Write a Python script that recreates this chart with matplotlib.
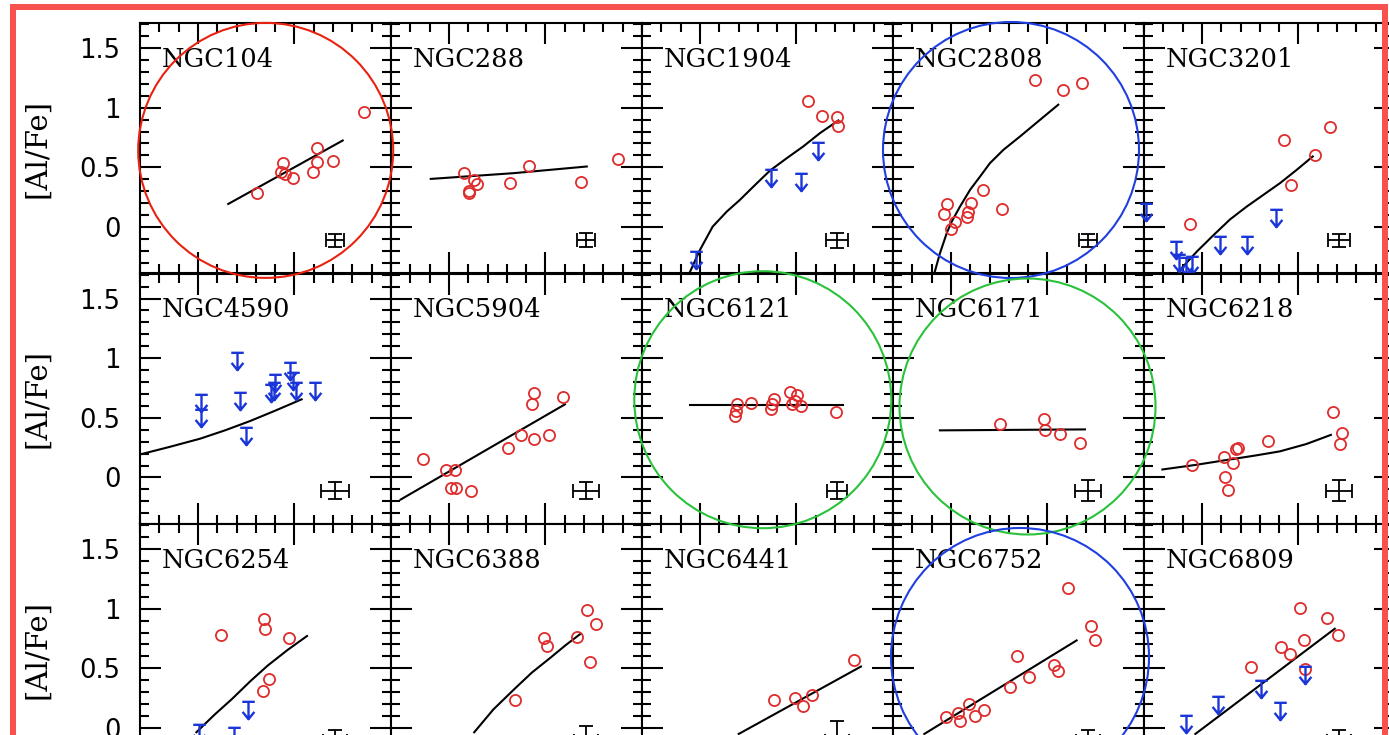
import matplotlib
matplotlib.use('Agg')
import matplotlib.pyplot as plt
from matplotlib.path import Path
from matplotlib.patches import Ellipse, Rectangle
from matplotlib.ticker import MultipleLocator

# ---------------- data ----------------
names = ["NGC104", "NGC288", "NGC1904", "NGC2808", "NGC3201",
         "NGC4590", "NGC5904", "NGC6121", "NGC6171", "NGC6218",
         "NGC6254", "NGC6388", "NGC6441", "NGC6752", "NGC6809"]

ngc104_x = [0.307, 0.439, 0.430, 0.451, 0.494, 0.598, 0.615, 0.618, 0.701, 0.862]
ngc104_y = [0.288, 0.535, 0.465, 0.445, 0.414, 0.465, 0.666, 0.544, 0.549, 0.961]
ngc104_lx = [0.157, 0.750]
ngc104_ly = [0.193, 0.725]
ngc104_err = [0.045, 0.055]

ngc288_x = [0.078, 0.131, 0.144, 0.104, 0.106, 0.316, 0.415, 0.684, 0.876]
ngc288_y = [0.451, 0.395, 0.361, 0.303, 0.288, 0.367, 0.513, 0.381, 0.571]
ngc288_lx = [-0.094, 0.334, 0.714]
ngc288_ly = [0.403, 0.451, 0.507]
ngc288_err = [0.047, 0.060]

ngc1904_x = [0.558, 0.634, 0.712, 0.717]
ngc1904_y = [1.053, 0.933, 0.922, 0.849]
ngc1904_ulx = [0.368, 0.522, 0.609, -0.022]
ngc1904_uly = [0.409, 0.381, 0.633, -0.277]
ngc1904_lx = [-0.055, 0.0, 0.066, 0.139, 0.207, 0.286, 0.363, 0.450, 0.535, 0.622, 0.717]
ngc1904_ly = [-0.389, -0.193, 0.003, 0.129, 0.227, 0.353, 0.473, 0.577, 0.675, 0.787, 0.893]
ngc1904_err = [0.057, 0.063]

ngc2808_x = [0.435, 0.580, 0.680, 0.168, -0.019, -0.036, 0.021, -0.001, 0.103, 0.091, 0.082, 0.265]
ngc2808_y = [1.235, 1.151, 1.207, 0.311, 0.191, 0.107, 0.045, -0.014, 0.199, 0.129, 0.087, 0.149]
ngc2808_lx = [-0.086, -0.057, -0.022, 0.004, 0.047, 0.099, 0.151, 0.202, 0.272, 0.358, 0.462, 0.556]
ngc2808_ly = [-0.389, -0.221, -0.053, 0.045, 0.171, 0.311, 0.423, 0.535, 0.647, 0.759, 0.899, 1.025]
ngc2808_err = [0.047, 0.055]

ngc3201_x = [-0.062, 0.427, 0.463, 0.586, 0.664]
ngc3201_y = [0.022, 0.728, 0.353, 0.602, 0.838]
ngc3201_ulx = [0.382, 0.235, 0.094, -0.136, -0.120, -0.050, -0.085, -0.290]
ngc3201_uly = [0.073, -0.151, -0.151, -0.193, -0.305, -0.315, -0.330, 0.129]
ngc3201_lx = [-0.122, -0.027, 0.059, 0.146, 0.232, 0.318, 0.404, 0.491, 0.574]
ngc3201_ly = [-0.375, -0.207, -0.070, 0.064, 0.171, 0.269, 0.367, 0.479, 0.591]
ngc3201_err = [0.056, 0.055]

ngc4590_ulx = [0.016, 0.016, 0.201, 0.218, 0.249, 0.377, 0.399, 0.394, 0.477, 0.494, 0.508, 0.606]
ngc4590_uly = [0.628, 0.502, 0.977, 0.641, 0.347, 0.712, 0.796, 0.725, 0.893, 0.809, 0.725, 0.725]
ngc4590_lx = [-0.300, -0.150, 0.011, 0.140, 0.270, 0.400, 0.537]
ngc4590_ly = [0.193, 0.255, 0.325, 0.395, 0.473, 0.560, 0.655]
ngc4590_err = [0.073, 0.070]

ngc5904_x = [-0.133, -0.017, 0.031, 0.009, 0.037, 0.113, 0.308, 0.372, 0.441, 0.518, 0.429, 0.441, 0.593]
ngc5904_y = [0.151, 0.061, 0.061, -0.087, -0.087, -0.115, 0.244, 0.356, 0.319, 0.356, 0.613, 0.706, 0.678]
ngc5904_lx = [-0.250, 0.601]
ngc5904_ly = [-0.185, 0.613]
ngc5904_err = [0.065, 0.070]

ngc6121_x = [0.182, 0.187, 0.193, 0.265, 0.368, 0.372, 0.384, 0.467, 0.501, 0.475, 0.492, 0.522, 0.705]
ngc6121_y = [0.515, 0.557, 0.613, 0.627, 0.571, 0.613, 0.655, 0.717, 0.692, 0.613, 0.641, 0.599, 0.552]
ngc6121_lx = [-0.051, 0.743]
ngc6121_ly = [0.605, 0.605]
ngc6121_err = [0.052, 0.070]

ngc6171_x = [0.254, 0.482, 0.487, 0.565, 0.668]
ngc6171_y = [0.445, 0.487, 0.398, 0.361, 0.292]
ngc6171_lx = [-0.057, 0.694]
ngc6171_ly = [0.395, 0.403]
ngc6171_err = [0.065, 0.090]

ngc6218_x = [-0.051, 0.114, 0.159, 0.121, 0.134, 0.177, 0.189, 0.341, 0.678, 0.724, 0.715]
ngc6218_y = [0.101, 0.171, 0.123, 0.006, -0.106, 0.235, 0.244, 0.305, 0.549, 0.370, 0.277]
ngc6218_lx = [-0.205, -0.030, 0.145, 0.280, 0.404, 0.540, 0.668]
ngc6218_ly = [0.067, 0.106, 0.151, 0.185, 0.219, 0.280, 0.357]
ngc6218_err = [0.065, 0.090]

ngc6254_x = [0.120, 0.344, 0.346, 0.473, 0.369, 0.335]
ngc6254_y = [0.781, 0.916, 0.826, 0.756, 0.412, 0.313]
ngc6254_ulx = [0.258, 0.008, 0.189]
ngc6254_uly = [0.150, -0.045, -0.070]
ngc6254_lx = [-0.008, 0.085, 0.177, 0.270, 0.362, 0.465, 0.565]
ngc6254_ly = [-0.036, 0.110, 0.244, 0.390, 0.524, 0.655, 0.771]
ngc6254_err = [0.060, 0.090]

ngc6388_x = [0.341, 0.490, 0.507, 0.662, 0.715, 0.762, 0.732]
ngc6388_y = [0.238, 0.756, 0.686, 0.762, 0.992, 0.874, 0.557]
ngc6388_lx = [0.131, 0.230, 0.340, 0.430, 0.525, 0.605, 0.682]
ngc6388_ly = [-0.036, 0.155, 0.328, 0.465, 0.588, 0.695, 0.790]
ngc6388_err = [0.060, 0.130]

ngc6441_x = [0.384, 0.494, 0.534, 0.583, 0.799]
ngc6441_y = [0.235, 0.252, 0.188, 0.280, 0.571]
ngc6441_lx = [0.201, 0.834]
ngc6441_ly = [-0.050, 0.515]
ngc6441_err = [0.060, 0.170]

ngc6752_x = [-0.026, 0.037, 0.049, 0.096, 0.124, 0.173, 0.307, 0.340, 0.406, 0.532, 0.556, 0.607, 0.725, 0.748]
ngc6752_y = [0.095, 0.126, 0.056, 0.202, 0.098, 0.154, 0.342, 0.603, 0.426, 0.524, 0.476, 1.176, 0.851, 0.739]
ngc6752_lx = [-0.138, 0.651]
ngc6752_ly = [-0.050, 0.734]
ngc6752_err = [0.060, 0.090]

ngc6809_x = [0.253, 0.412, 0.454, 0.510, 0.529, 0.646, 0.705, 0.533]
ngc6809_y = [0.515, 0.683, 0.622, 1.006, 0.739, 0.922, 0.781, 0.496]
ngc6809_ulx = [0.536, 0.307, 0.405, 0.085, -0.084]
ngc6809_uly = [0.440, 0.328, 0.145, 0.196, 0.034]
ngc6809_lx = [-0.034, 0.688]
ngc6809_ly = [-0.050, 0.832]
ngc6809_err = [0.060, 0.090]

ytick_vals = [0, 0.5, 1, 1.5]
ytick_labels = ["0", "0.5", "1", "1.5"]
ylabel_text = "[Al/Fe]"

panels = [
    (ngc104_x, ngc104_y, [], [], ngc104_lx, ngc104_ly, ngc104_err),
    (ngc288_x, ngc288_y, [], [], ngc288_lx, ngc288_ly, ngc288_err),
    (ngc1904_x, ngc1904_y, ngc1904_ulx, ngc1904_uly, ngc1904_lx, ngc1904_ly, ngc1904_err),
    (ngc2808_x, ngc2808_y, [], [], ngc2808_lx, ngc2808_ly, ngc2808_err),
    (ngc3201_x, ngc3201_y, ngc3201_ulx, ngc3201_uly, ngc3201_lx, ngc3201_ly, ngc3201_err),
    ([], [], ngc4590_ulx, ngc4590_uly, ngc4590_lx, ngc4590_ly, ngc4590_err),
    (ngc5904_x, ngc5904_y, [], [], ngc5904_lx, ngc5904_ly, ngc5904_err),
    (ngc6121_x, ngc6121_y, [], [], ngc6121_lx, ngc6121_ly, ngc6121_err),
    (ngc6171_x, ngc6171_y, [], [], ngc6171_lx, ngc6171_ly, ngc6171_err),
    (ngc6218_x, ngc6218_y, [], [], ngc6218_lx, ngc6218_ly, ngc6218_err),
    (ngc6254_x, ngc6254_y, ngc6254_ulx, ngc6254_uly, ngc6254_lx, ngc6254_ly, ngc6254_err),
    (ngc6388_x, ngc6388_y, [], [], ngc6388_lx, ngc6388_ly, ngc6388_err),
    (ngc6441_x, ngc6441_y, [], [], ngc6441_lx, ngc6441_ly, ngc6441_err),
    (ngc6752_x, ngc6752_y, [], [], ngc6752_lx, ngc6752_ly, ngc6752_err),
    (ngc6809_x, ngc6809_y, ngc6809_ulx, ngc6809_uly, ngc6809_lx, ngc6809_ly, ngc6809_err),
]

# ---------------- style ----------------
W, H = 1389, 735
RED = '#de2c2c'
BLUE = '#1b36d8'
SERIF = ['DejaVu Serif']
SANS = ['DejaVu Sans']

arrow_marker = Path(
    [(-0.36, 0.5), (0.36, 0.5), (0.0, 0.5), (0.0, -0.5),
     (-0.34, -0.08), (0.0, -0.5), (0.34, -0.08)],
    [Path.MOVETO, Path.LINETO, Path.MOVETO, Path.LINETO,
     Path.MOVETO, Path.LINETO, Path.LINETO])

fig = plt.figure(figsize=(W / 100, H / 100), dpi=100)
fig.patch.set_facecolor('white')

ax_w, ax_h = 251.0, 250.5
left0, top0 = 140.0, 23.0

for i, (name, p) in enumerate(zip(names, panels)):
    r, c = divmod(i, 5)
    lpx = left0 + c * ax_w
    tpx = top0 + r * ax_h
    ax = fig.add_axes([lpx / W, 1 - (tpx + ax_h) / H, ax_w / W, ax_h / H])
    rx, ry, ux, uy, lx, ly, err = p
    ax.plot(lx, ly, color='black', lw=1.5, zorder=2)
    if rx:
        ax.plot(rx, ry, ls='none', marker='o', ms=8, mfc='none', mec=RED,
                mew=1.3, zorder=3, clip_on=False)
    if ux:
        ax.plot(ux, uy, ls='none', marker=arrow_marker, ms=12.5, mfc='none',
                mec=BLUE, mew=1.7, zorder=3, clip_on=False)
    ax.errorbar([0.71], [-0.11], xerr=[err[0]], yerr=[err[1]], fmt='none',
                ecolor='black', elinewidth=1.3, capsize=5, capthick=1.3, zorder=3)
    ax.set_xlim(-0.3, 1.0)
    ax.set_ylim(-0.39, 1.71)
    ax.xaxis.set_major_locator(MultipleLocator(0.5))
    ax.xaxis.set_minor_locator(MultipleLocator(0.1))
    ax.yaxis.set_major_locator(MultipleLocator(0.5))
    ax.yaxis.set_minor_locator(MultipleLocator(0.1))
    ax.tick_params(which='both', direction='in', top=True, right=True,
                   bottom=True, left=True, width=1.5, color='black',
                   labelbottom=False, labelleft=(c == 0))
    ax.tick_params(which='major', length=15, pad=14)
    ax.tick_params(which='minor', length=6.5)
    if c == 0:
        ax.set_yticks(ytick_vals)
        ax.set_yticklabels(ytick_labels, family=SANS, fontsize=18.5)
        fig.text(37 / W, 1 - (tpx + ax_h / 2) / H, ylabel_text, rotation=90,
                 ha='center', va='center', family=SERIF, fontsize=21)
    for s in ax.spines.values():
        s.set_linewidth(1.5)
    ax.text(0.088, 0.826, name, transform=ax.transAxes, ha='left',
            va='baseline', family=SERIF, fontsize=18.5, zorder=4)

# highlight circles (figure pixel geometry)
circles = [((265.7, 150.4), 255, '#e8220f'),
           ((1011.0, 150.0), 256, '#1f3fe0'),
           ((762.8, 399.7), 257, '#2bc23b'),
           ((1027.5, 406.5), 256, '#2bc23b'),
           ((1020.0, 657.0), 258, '#1f3fe0')]
for (cx, cy), d, col in circles:
    fig.add_artist(Ellipse((cx / W, 1 - cy / H), width=d / W, height=d / H,
                           transform=fig.transFigure, fill=False, ec=col,
                           lw=1.5, zorder=10))

# outer red frame
fig.add_artist(Rectangle((12.5 / W, 1 - 800 / H), (1385 - 12.5) / W, (800 - 7) / H,
                         transform=fig.transFigure, fill=False, ec='#f7524d',
                         lw=4.3, zorder=11))

fig.savefig('out.png', dpi=100)
